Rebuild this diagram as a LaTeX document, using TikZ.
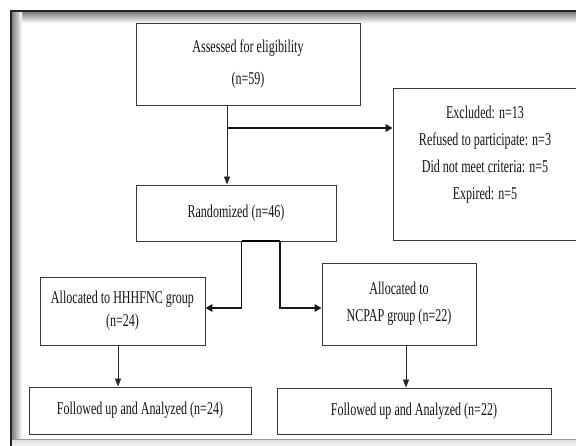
\documentclass[tikz,border=0pt]{standalone}
\usepackage{fontspec}
\setmainfont{Liberation Serif}[FakeStretch=0.67]
\usetikzlibrary{arrows.meta}
\begin{document}
\begin{tikzpicture}[x=1pt,y=-1pt,
  box/.style={draw=black!78, line width=0.9pt, fill=white, inner sep=0pt, align=center,
    font=\fontsize{18}{21}\selectfont, text=black!92},
  txt/.style={inner sep=0pt, align=center, font=\fontsize{18}{21}\selectfont, text=black!92},
  harr/.style={-{Triangle[length=7pt,width=7.5pt]}, line width=1.7pt, black!90},
  varr/.style={-{Triangle[length=8pt,width=6pt]}, line width=0.9pt, black!85},
  conn/.style={line width=1.1pt, black!80}]
\clip (0,0) rectangle (576,446);
\fill[white] (0,0) rectangle (576,446);
% frame with shadow
\shade[top color=black!50, bottom color=white] (12,12) rectangle (600,23);
\shade[left color=black!50, right color=white] (12,12) rectangle (22,440);
\shade[top color=black!14, bottom color=black!4] (12,439) rectangle (600,446);
\draw[line width=2pt, black!85] (11,446) -- (11,11) -- (600,11);
\draw[line width=0.8pt, black!40] (12,439) -- (600,439);
% boxes
\node[box, minimum width=224, minimum height=82] (assess) at (248,64)
  {Assessed for eligibility\\[11pt](n=59)};
\node[box, minimum width=184, minimum height=152] (excl) at (485,164) {};
\node[txt] (excltext) at (485,155)
  {Excluded: n=13\\[6pt]Refused to participate: n=3\\[6pt]Did not meet criteria: n=5\\[6pt]Expired: n=5};
\node[box, minimum width=200, minimum height=56] (rand) at (236,213) {Randomized (n=46)};
\node[box, minimum width=165, minimum height=68] (hhh) at (122.5,311)
  {Allocated to HHHFNC group\\[2pt](n=24)};
\node[box, minimum width=154, minimum height=82] (ncp) at (399,304)
  {Allocated to\\[6pt]NCPAP group (n=22)};
\node[box, minimum width=222, minimum height=47] (fol1) at (140,410.5)
  {Followed up and Analyzed (n=24)};
\node[box, minimum width=274, minimum height=46] (fol2) at (414,411)
  {Followed up and Analyzed (n=22)};
% helper coordinates
\coordinate (vx) at (227,0);
\coordinate (br) at (227,128);
\coordinate (L) at (241.5,241);
\coordinate (R) at (280,241);
\coordinate (ya) at (0,308);
\coordinate (x1) at (118,0);
\coordinate (x2) at (406,0);
% connectors
\draw[varr] (assess.south -| vx) -- (rand.north -| vx);
\draw[harr] (br) -- (br -| excl.west);
\draw[line width=2pt, black] (L) -- (R);
\draw[harr] (L) |- (hhh.east |- ya);
\draw[harr] (R) |- (ncp.west |- ya);
\draw[varr] (hhh.south -| x1) -- (fol1.north -| x1);
\draw[varr] (ncp.south -| x2) -- (fol2.north -| x2);
\end{tikzpicture}
\end{document}
